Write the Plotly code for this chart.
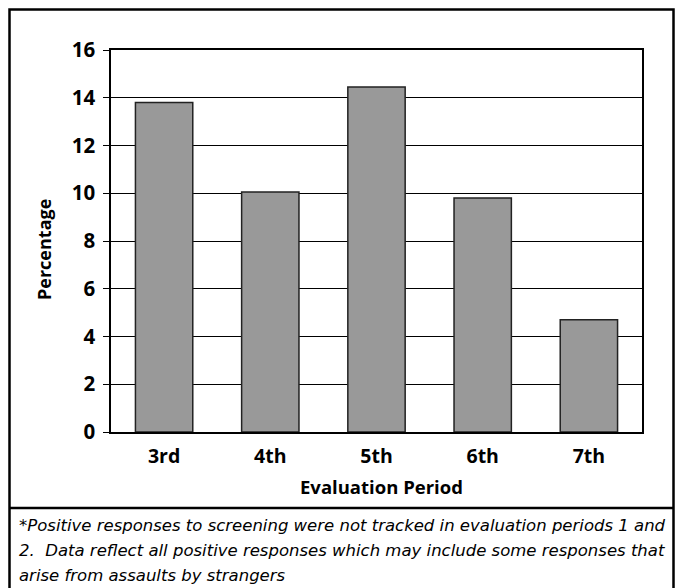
import plotly.graph_objects as go

categories = ["3rd", "4th", "5th", "6th", "7th"]
percentages = [13.8, 10.05, 14.45, 9.8, 4.7]
y_ticks = [0, 2, 4, 6, 8, 10, 12, 14, 16]
footnote_lines = [
    "*Positive responses to screening were not tracked in evaluation periods 1 and",
    "2.  Data reflect all positive responses which may include some responses that",
    "arise from assaults by strangers",
]

OFF = 8  # page body margin
W, H = 683 - 2 * OFF, 588 - OFF
L, R, T, B = 111 - OFF, 642 - OFF, 50 - OFF, 432 - OFF
FONT = "Open Sans"

def px(x):
    return (x - OFF - L) / (R - L)

def py(y):
    return (B - (y - OFF)) / (B - T)

fig = go.Figure(go.Bar(
    x=categories, y=percentages,
    marker=dict(color="#999999", line=dict(color="#222222", width=1.5)),
    width=0.54,
))

fig.update_layout(
    width=W, height=H,
    margin=dict(l=L, r=W - R, t=T, b=H - B),
    paper_bgcolor="white", plot_bgcolor="white",
    showlegend=False,
    font=dict(family=FONT, color="black"),
)
fig.update_yaxes(
    range=[0, 16], tickvals=y_ticks, ticktext=[str(v) for v in y_ticks],
    showgrid=True, gridcolor="black", gridwidth=1,
    showline=True, linecolor="black", linewidth=1.5, mirror=True,
    ticks="outside", ticklen=6, tickcolor="black", tickwidth=1,
    ticklabelstandoff=4,
    tickfont=dict(size=20.5, family=FONT, weight="bold"),
    zeroline=False,
)
fig.update_xaxes(
    showline=True, linecolor="black", linewidth=2, mirror=True,
    ticks="", ticklabelstandoff=6,
    tickfont=dict(size=19.5, family=FONT, weight="bold"),
)

fig.add_annotation(text="Percentage", xref="paper", yref="paper",
                   x=px(44), y=py(250), xanchor="center", yanchor="middle",
                   textangle=-90, showarrow=False,
                   font=dict(size=18, family=FONT, weight="bold"))
fig.add_annotation(text="Evaluation Period", xref="paper", yref="paper",
                   x=px(381), y=py(486), xanchor="center", yanchor="middle",
                   showarrow=False,
                   font=dict(size=18.5, family=FONT, weight="bold"))

shapes = []
shapes.append(dict(type="rect", xref="paper", yref="paper",
                   x0=px(9.5), x1=px(673.5), y0=py(600), y1=py(9.5),
                   line=dict(color="black", width=2.5)))
shapes.append(dict(type="line", xref="paper", yref="paper",
                   x0=px(9.5), x1=px(673.5), y0=py(508), y1=py(508),
                   line=dict(color="black", width=2.5)))
fig.update_layout(shapes=shapes)

for i, line in enumerate(footnote_lines):
    fig.add_annotation(
        text=line, xref="paper", yref="paper",
        x=px(17), y=py(525 + 25 * i), xanchor="left", yanchor="middle",
        align="left", showarrow=False,
        font=dict(size=16.5, family="DejaVu Sans", style="italic", color="black"),
    )

fig.write_html("out.html")
